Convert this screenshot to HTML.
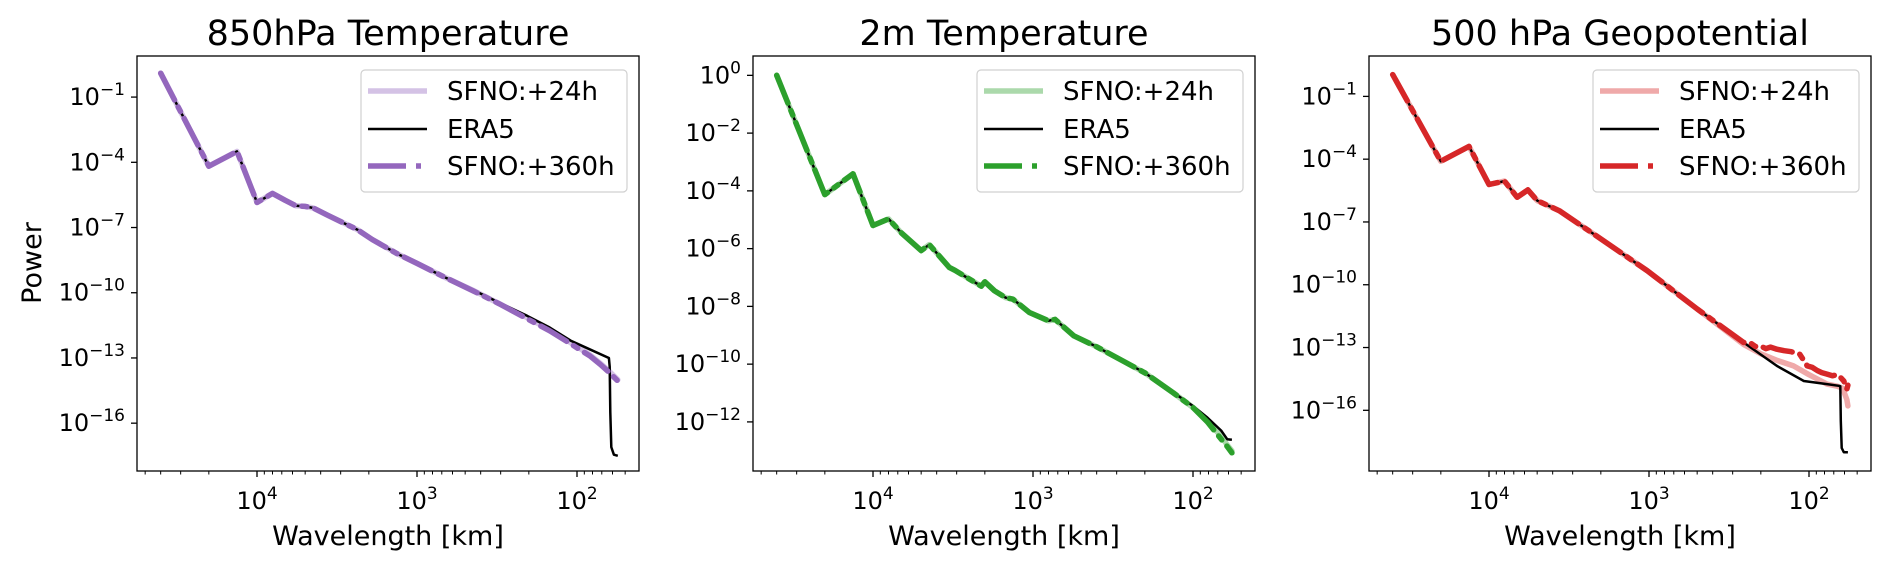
<!DOCTYPE html>
<html><head><meta charset="utf-8">
<style>
html,body{margin:0;padding:0;background:#fff;}
svg{display:block;font-family:"DejaVu Sans","Liberation Sans",sans-serif;}
</style></head>
<body>
<svg id="fig" width="1892" height="565" viewBox="0 0 1892 565" xmlns="http://www.w3.org/2000/svg"></svg>
<script>
// ---- data (wavenumber l -> wavelength 40000/l km ; log10 power) ----
const panelTitles = ["850hPa Temperature", "2m Temperature", "500 hPa Geopotential"];
const legendLabels = ["SFNO:+24h", "ERA5", "SFNO:+360h"];

const t850EraL   = [1,2,3,4,5,6,7,8,9,11,17,21,30,40,60,89,130,195,270,365,480,633,640,646,655,680,720];
const t850EraP   = [0.1,-4.18,-3.5,-5.85,-5.43,-5.75,-6.0,-6.03,-6.1,-6.43,-7.1,-7.55,-8.2,-8.65,-9.3,-9.86,-10.45,-11.06,-11.6,-12.2,-12.6,-13.0,-13.4,-15.5,-17.1,-17.45,-17.5];
const t850S24L   = [1,2,3,4,5,6,7,8,9,11,17,21,30,40,60,89,130,195,270,365,480,560,633,720];
const t850S24P   = [0.1,-4.18,-3.5,-5.85,-5.43,-5.75,-6.0,-6.03,-6.1,-6.43,-7.1,-7.55,-8.2,-8.65,-9.3,-9.88,-10.5,-11.15,-11.7,-12.3,-12.85,-13.25,-13.6,-14.0];
const t850S360L  = [1,2,3,4,5,6,7,8,9,11,17,21,30,40,60,89,130,195,270,365,480,560,633,720];
const t850S360P  = [0.1,-4.18,-3.5,-5.85,-5.43,-5.75,-6.0,-6.03,-6.1,-6.43,-7.1,-7.55,-8.2,-8.65,-9.3,-9.9,-10.5,-11.2,-11.75,-12.35,-12.9,-13.3,-13.65,-14.06];

const t2mEraL    = [1,2,3,4,5,6,8,9,12,13,16,19,20,23,27,30,38,50,55,72,100,146,200,302,400,492,600,654,700];
const t2mEraP    = [0,-4.13,-3.41,-5.2,-4.97,-5.45,-6.07,-5.86,-6.65,-6.75,-7.05,-7.3,-7.15,-7.46,-7.7,-7.75,-8.21,-8.5,-8.45,-9.02,-9.4,-9.89,-10.3,-10.99,-11.45,-11.85,-12.3,-12.6,-12.62];
const t2mS24L    = [1,2,3,4,5,6,8,9,12,13,16,19,20,23,27,30,38,50,55,72,100,146,200,302,400,492,600,654,700];
const t2mS24P    = [0,-4.13,-3.41,-5.2,-4.97,-5.45,-6.07,-5.86,-6.65,-6.75,-7.05,-7.3,-7.15,-7.46,-7.7,-7.75,-8.21,-8.5,-8.45,-9.02,-9.4,-9.89,-10.3,-11.0,-11.5,-11.98,-12.5,-12.8,-13.0];
const t2mS360L   = [1,2,3,4,5,6,8,9,12,13,16,19,20,23,27,30,38,50,55,72,100,146,200,302,400,492,600,654,700];
const t2mS360P   = [0,-4.13,-3.41,-5.2,-4.97,-5.45,-6.07,-5.86,-6.65,-6.75,-7.05,-7.3,-7.15,-7.46,-7.7,-7.75,-8.21,-8.5,-8.45,-9.02,-9.4,-9.89,-10.3,-11.0,-11.5,-12.0,-12.6,-12.85,-13.07];

const z500EraL   = [1,2,3,4,5,6,7,8,11,18,39,80,156,252,371,518,614,628,632,640,660,700];
const z500EraP   = [0.04,-4.1,-3.39,-5.21,-5.05,-5.82,-5.47,-5.98,-6.46,-7.57,-9.33,-11.16,-12.76,-13.88,-14.6,-14.75,-14.83,-14.85,-16.5,-17.8,-18.0,-18.0];
const z500S24L   = [1,2,3,4,5,6,7,8,11,18,39,80,156,200,250,320,400,518,600,650,690,700];
const z500S24P   = [0.04,-4.1,-3.39,-5.21,-5.05,-5.82,-5.47,-5.98,-6.46,-7.57,-9.33,-11.16,-12.85,-13.3,-13.6,-13.88,-14.3,-14.75,-14.85,-14.95,-15.5,-15.79];
const z500S360L  = [1,2,3,4,5,6,7,8,11,18,39,80,156,170,185,198,215,230,252,280,310,350,370,390,420,450,480,518,560,600,630,660,690,700];
const z500S360P  = [0.04,-4.1,-3.39,-5.21,-5.05,-5.82,-5.47,-5.98,-6.46,-7.57,-9.33,-11.16,-12.76,-12.75,-12.95,-12.92,-13.05,-12.98,-13.08,-13.15,-13.2,-13.32,-13.6,-13.88,-13.95,-14.1,-14.2,-14.27,-14.35,-14.3,-14.43,-14.6,-14.98,-14.8];

const yTicks1 = [-1,-4,-7,-10,-13,-16];
const yTicks2 = [0,-2,-4,-6,-8,-10,-12];
const yTicks3 = [-1,-4,-7,-10,-13,-16];
const xMajorTicks = [4,3,2];

// ---- layout ----
const NS = "http://www.w3.org/2000/svg";
const fig = document.getElementById("fig");
const TOP = 56, BOT = 471, W = 502, DEC = 160;
function mk(tag, attrs, parent){ const e=document.createElementNS(NS,tag); for(const k in attrs) e.setAttribute(k,attrs[k]); (parent||fig).appendChild(e); return e; }

const panels = [
  {left:137, ymax:0.89, ymin:-18.2, ticks:yTicks1, col:"#9467bd", series:[[t850S24L,t850S24P],[t850EraL,t850EraP],[t850S360L,t850S360P]], name:"t850"},
  {left:753, ymax:0.67, ymin:-13.70, ticks:yTicks2, col:"#2ca02c", series:[[t2mS24L,t2mS24P],[t2mEraL,t2mEraP],[t2mS360L,t2mS360P]], name:"t2m"},
  {left:1369, ymax:0.93, ymin:-18.9, ticks:yTicks3, col:"#d62728", series:[[z500S24L,z500S24P],[z500EraL,z500EraP],[z500S360L,z500S360P]], name:"z500"}
];

panels.forEach((p, pi) => {
  const xs = lg => p.left + 120 + (4 - lg) * DEC;
  const xl = l => xs(Math.log10(40000 / l));
  const ys = v => TOP + (p.ymax - v) / (p.ymax - p.ymin) * (BOT - TOP);
  const g = mk("g", {});
  
  

  const clipId = "clip" + pi;
  const cp = mk("clipPath", {id: clipId}, g);
  mk("rect", {x:p.left, y:TOP, width:W, height:BOT-TOP}, cp);

  const t = mk("text", {x:p.left+W/2, y:45, "text-anchor":"middle", "font-size":"35", fill:"#000"}, g);
  t.textContent = panelTitles[pi];
  
  

  p.ticks.forEach(v => {
    const y = ys(v);
    mk("line", {x1:p.left-6, x2:p.left, y1:y, y2:y, stroke:"#000", "stroke-width":1.3}, g);
    const tx = mk("text", {x:p.left-12, y:y+8, "text-anchor":"end", "font-size":"24", fill:"#000"}, g);
    
    
    const a = mk("tspan", {}, tx); a.textContent = "10";
    const b = mk("tspan", {dy:-10, "font-size":"17"}, tx); b.textContent = (v < 0 ? "\u2212" + (-v) : String(v));
  });

  const lo = 4 - (W - 120) / DEC, hi = 4 + 120 / DEC;
  for (let k = 1; k <= 5; k++) {
    for (let m = 1; m <= 9; m++) {
      const lg = k + Math.log10(m);
      if (lg < lo || lg > hi) continue;
      const x = xs(lg);
      const major = (m === 1);
      mk("line", {x1:x, x2:x, y1:BOT, y2:BOT+(major?6:3.5), stroke:"#000", "stroke-width":major?1.3:1}, g);
    }
  }
  xMajorTicks.forEach(k => {
    const x = xs(k);
    const tx = mk("text", {x:x, y:509, "text-anchor":"middle", "font-size":"24", fill:"#000"}, g);
    
    
    const a = mk("tspan", {}, tx); a.textContent = "10";
    const b = mk("tspan", {dy:-10, "font-size":"17"}, tx); b.textContent = String(k);
  });

  const xlab = mk("text", {x:p.left+W/2, y:545, "text-anchor":"middle", "font-size":"27", fill:"#000"}, g);
  xlab.textContent = "Wavelength [km]";
  
  

  const styles = [
    {stroke:p.col, w:5.5, op:0.4, dash:null, nm:"sfno-24h-line"},
    {stroke:"#000", w:2.5, op:1, dash:null, nm:"era5-line"},
    {stroke:p.col, w:5.5, op:1, dash:"30,8,5,8", nm:"sfno-360h-line"}
  ];
  const sg = mk("g", {"clip-path":"url(#"+clipId+")"}, g);
  p.series.forEach((s, si) => {
    const L = s[0], P = s[1];
    const pts = L.map((l, i) => xl(l).toFixed(1) + "," + ys(P[i]).toFixed(1)).join(" ");
    const st = styles[si];
    const pl = mk("polyline", {points:pts, fill:"none", stroke:st.stroke, "stroke-width":st.w, "stroke-opacity":st.op, "stroke-linejoin":"round", "stroke-linecap":si===1?"butt":"round"}, sg);
    if (st.dash) pl.setAttribute("stroke-dasharray", st.dash);
    
    
  });

  const fr = mk("rect", {x:p.left, y:TOP, width:W, height:BOT-TOP, fill:"none", stroke:"#000", "stroke-width":1.3}, g);
  
  

  const lg = mk("g", {}, g);
  
  
  mk("rect", {x:p.left+224, y:70, width:266, height:122, rx:4, fill:"#fff", "fill-opacity":0.8, stroke:"#d0d0d0", "stroke-width":1.2}, lg);
  const ey = [91, 129, 166];
  styles.forEach((st, i) => {
    const e = mk("g", {}, lg);
    
    
    const ln = mk("line", {x1:p.left+231, x2:p.left+290, y1:ey[i], y2:ey[i], stroke:st.stroke, "stroke-width":st.w, "stroke-opacity":st.op}, e);
    if (st.dash) { ln.setAttribute("stroke-dasharray", "38,10,5,10"); }
    const tx = mk("text", {x:p.left+310, y:ey[i]+9, "font-size":"26", fill:"#000"}, e);
    tx.textContent = legendLabels[i];
  });
});

const yl = mk("text", {x:0, y:0, "text-anchor":"middle", "font-size":"27", fill:"#000", transform:"translate(41,263) rotate(-90)"});
yl.textContent = "Power";


</script>
</body></html>
